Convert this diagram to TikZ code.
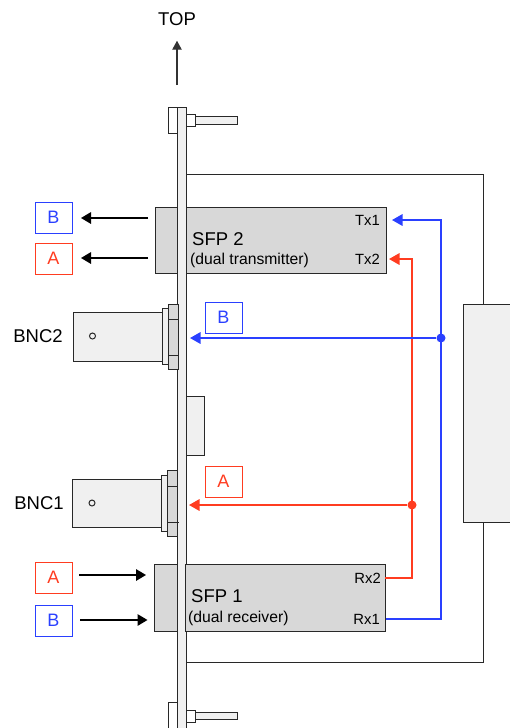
\documentclass[tikz,border=0pt]{standalone}
\usepackage{fontspec}
\setmainfont{Liberation Sans}
\usepackage{tikz}
\usetikzlibrary{arrows.meta, positioning, calc}
\definecolor{figblue}{RGB}{42,64,255}
\definecolor{figred}{RGB}{255,60,32}
\definecolor{figline}{RGB}{40,40,40}
\definecolor{figgray}{RGB}{216,216,216}
\definecolor{figlight}{RGB}{240,240,240}

\begin{document}
\begin{tikzpicture}[
      x=1pt, y=-1pt,
      part/.style={draw=figline, line width=1pt, anchor=north west, inner sep=0pt, outer sep=0pt},
      metal/.style={part, fill=figlight},
      module/.style={part, fill=figgray},
      tagblue/.style={part, draw=figblue, text=figblue, minimum width=37pt, minimum height=31.5pt, font=\fontsize{18}{20}\selectfont},
      tagred/.style={part, draw=figred, text=figred, minimum width=37pt, minimum height=31.5pt, font=\fontsize{18}{20}\selectfont},
      lbl/.style={inner sep=0pt, font=\fontsize{18.5}{20}\selectfont},
      sub/.style={anchor=west, inner sep=0pt, font=\fontsize{15.7}{18}\selectfont},
      port/.style={anchor=east, inner sep=0pt, font=\fontsize{14.8}{18}\selectfont},
      sig/.style={-{Triangle[length=10pt,width=11.5pt]}, line width=1.5pt, black},
      bluewire/.style={-{Triangle[length=10.5pt,width=11.5pt]}, line width=1.6pt, figblue},
      redwire/.style={-{Triangle[length=10.5pt,width=11.5pt]}, line width=1.6pt, figred},
      dot/.style={circle, inner sep=0pt, minimum size=9pt}
    ]
      \clip (0,0) rectangle (510,728);

      % board outline behind everything
      \coordinate (boardnw) at (186,174);
      \coordinate (boardne) at (483,174);
      \coordinate (boardse) at (483,662);
      \coordinate (boardsw) at (186,662);
      \node[metal, minimum width=60pt, minimum height=218pt] (edge) at (463,304) {};
      \draw[figline, line width=1pt] (boardnw) -- (boardne) -- (edge.north -| boardne);
      \draw[figline, line width=1pt] (edge.south -| boardse) -- (boardse) -- (boardsw);

      % front panel with clamps
      \node[metal, minimum width=9pt, minimum height=640pt] (plate) at (177,107) {};
      \node[part, fill=white, minimum width=9pt, minimum height=26pt] (clamptop) at (168,107) {};
      \node[metal, minimum width=42pt, minimum height=7.5pt] (shafttop) at (195,116.5) {};
      \node[part, fill=white, minimum width=9pt, minimum height=12pt] (headtop) at (186,114) {};
      \node[part, fill=white, minimum width=9pt, minimum height=40pt] (clampbot) at (168,702) {};
      \node[metal, minimum width=42pt, minimum height=7.5pt] (shaftbot) at (195,712) {};
      \node[part, fill=white, minimum width=9pt, minimum height=12pt] (headbot) at (186,710) {};
      \node[metal, minimum width=18pt, minimum height=59pt] (chip) at (186,396) {};

      % SFP modules
      \node[module, minimum width=22pt, minimum height=66pt] (sfptwoplug) at (155,207) {};
      \node[module, minimum width=200pt, minimum height=66pt] (sfptwo) at (186,207) {};
      \node[module, minimum width=23pt, minimum height=67pt] (sfponeplug) at (154,564) {};
      \node[module, minimum width=200pt, minimum height=67pt] (sfpone) at (185,564) {};
      \node[lbl, anchor=west] (sfptwolbl) at (192,239) {SFP 2};
      \node[sub] (sfptwosub) at (190,260) {(dual transmitter)};
      \node[lbl, anchor=west] (sfponelbl) at (191,596) {SFP 1};
      \node[sub] (sfponesub) at (188,618) {(dual receiver)};
      \node[port] (txone) at (380,220) {Tx1};
      \node[port] (txtwo) at (380,259) {Tx2};
      \node[port] (rxtwo) at (381,578) {Rx2};
      \node[port] (rxone) at (380,619) {Rx1};

      % BNC connectors
      \node[metal, minimum width=89pt, minimum height=49pt] (bnctwo) at (73,312) {};
      \node[metal, minimum width=6pt, minimum height=56pt] (bnctwocollar) at (162,308) {};
      \node[module, minimum width=10pt, minimum height=65pt] (bnctwonut) at (168,304) {};
      \draw[figline, line width=1pt] (168,319) -- (178,319) (168,355) -- (179,355);
      \node[draw=figline, line width=1pt, circle, inner sep=0pt, minimum size=6pt] (bnctwohole) at (92.5,336) {};
      \node[metal, minimum width=89pt, minimum height=48pt] (bncone) at (72.5,479) {};
      \node[metal, minimum width=6pt, minimum height=56pt] (bnconecollar) at (161,475) {};
      \node[module, minimum width=10pt, minimum height=66pt] (bnconenut) at (167,470) {};
      \draw[figline, line width=1pt] (167,486) -- (177,486) (167,522) -- (179,522);
      \node[draw=figline, line width=1pt, circle, inner sep=0pt, minimum size=6pt] (bnconehole) at (92,503) {};
      \node[lbl] (bnctwolbl) at (38,336) {BNC2};
      \node[lbl] (bnconelbl) at (39,503) {BNC1};

      % signal tags
      \node[tagblue] (tagbtx) at (35,202) {B};
      \node[tagred] (tagatx) at (35,243) {A};
      \node[tagblue] (tagbbnc) at (205,302) {B};
      \node[tagred] (tagabnc) at (205,466) {A};
      \node[tagred] (tagarx) at (35,562) {A};
      \node[tagblue] (tagbrx) at (35,605) {B};

      % outputs and inputs
      \coordinate (btxfrom) at (148,218);
      \coordinate (atxfrom) at (148,258);
      \coordinate (arxto) at (146,575);
      \coordinate (brxto) at (147.5,620);
      \draw[sig, shorten >=9pt] (btxfrom) -- (tagbtx.east |- btxfrom);
      \draw[sig, shorten >=9pt] (atxfrom) -- (tagatx.east |- atxfrom);
      \draw[sig, shorten <=7pt] (tagarx.east |- arxto) -- (arxto);
      \draw[sig, shorten <=8pt] (tagbrx.east |- brxto) -- (brxto);

      % TOP marker
      \node[lbl] (toplbl) at (177,19) {TOP};
      \coordinate (topfrom) at (177,85);
      \draw[-{Triangle[length=9pt,width=9.5pt]}, line width=1.1pt, black!80, shorten >=15pt] (topfrom) -- (toplbl.south);

      % wires
      \node[dot, fill=figblue] (bluedot) at (441,338) {};
      \node[dot, fill=figred] (reddot) at (412,505) {};
      \coordinate (rxoneport) at (386,619);
      \coordinate (rxtwoport) at (385,578);
      \coordinate (txoneport) at (392,220);
      \coordinate (txtwoport) at (389,259);
      \coordinate (bncbto) at (190,338);
      \coordinate (bncato) at (189,505);
      \draw[bluewire] (rxoneport) -| (bluedot.center) |- (txoneport);
      \draw[redwire] (rxtwoport) -| (reddot.center) |- (txtwoport);
      \draw[bluewire] (bluedot) -- (bncbto);
      \draw[redwire] (reddot) -- (bncato);
    \end{tikzpicture}
\end{document}
